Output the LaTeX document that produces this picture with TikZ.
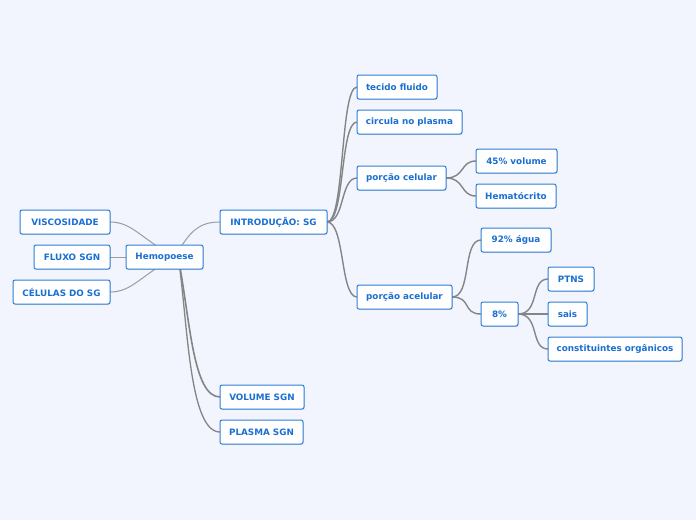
\documentclass[tikz,border=0pt]{standalone}
\usepackage{fontspec}
\setmainfont{DejaVu Sans}
\usetikzlibrary{shadows}
\definecolor{bgc}{HTML}{F2F5FE}
\definecolor{bordc}{HTML}{2E7FD8}
\definecolor{txtc}{HTML}{1A6FD2}
\definecolor{linec}{HTML}{858585}
\definecolor{linel}{HTML}{9C9C9C}
\tikzset{
  mbox/.style={draw=bordc, line width=1pt, fill=white, rounded corners=2pt,
    minimum height=24pt, inner sep=0pt, text=txtc,
    font=\fontsize{8.8}{10}\selectfont\bfseries,
    drop shadow={shadow xshift=0.6pt, shadow yshift=-0.8pt, opacity=0.25}},
  conn/.style={draw=linec, line width=1.4pt},
  connl/.style={draw=linel, line width=1pt}
}
\begin{document}
\begin{tikzpicture}[x=1pt,y=-1pt]
\fill[bgc] (0,0) rectangle (696,520);
\useasboundingbox (0,0) rectangle (696,520);
% coordinates for connector ends
\coordinate (hc) at (175,257);
\coordinate (hb) at (179,262);
\coordinate (ir) at (327,222);
% connectors
\draw[connl] (110,222) .. controls (132,222) and (140,238) .. (hc);
\draw[connl] (110,257) -- (hc);
\draw[connl] (110,292) .. controls (132,292) and (140,276) .. (hc);
\draw[connl] (hc) .. controls (190,230) and (200,222) .. (220,222);
\draw[conn, line width=1.6pt] (hb) .. controls (190,320) and (193,397) .. (220,397);
\draw[conn, line width=1.3pt] (hb) .. controls (188,330) and (190,432) .. (220,432);
\draw[conn] (ir) .. controls (345,222) and (340,87) .. (357,87);
\draw[conn] (ir) .. controls (345,222) and (340,122) .. (357,122);
\draw[conn] (ir) .. controls (345,222) and (340,178) .. (357,178);
\draw[conn] (ir) .. controls (345,222) and (340,297) .. (357,297);
\draw[conn] (446,178) .. controls (465,178) and (460,161) .. (476,161);
\draw[conn] (446,178) .. controls (465,178) and (460,196) .. (476,196);
\draw[conn] (452,297) .. controls (472,297) and (462,240) .. (481,240);
\draw[conn] (452,297) .. controls (472,297) and (462,314) .. (481,314);
\draw[conn] (518,314) .. controls (540,314) and (530,279) .. (548,279);
\draw[conn] (518,314) -- (548,314);
\draw[conn] (518,314) .. controls (540,314) and (530,349) .. (548,349);
% nodes
\node[mbox, minimum width=90pt] (visc) at (65,222) {VISCOSIDADE};
\node[mbox, minimum width=76pt] (flux) at (72,257) {FLUXO SGN};
\node[mbox, minimum width=97pt] (cel) at (61.5,292) {CÉLULAS DO SG};
\node[mbox, minimum width=77pt] (hemo) at (164.5,257) {Hemopoese};
\node[mbox, minimum width=107pt] (intro) at (273.5,222) {INTRODUÇÃO: SG};
\node[mbox, minimum width=80pt] (tec) at (397,87) {tecido fluido};
\node[mbox, minimum width=105pt] (circ) at (409.5,122) {circula no plasma};
\node[mbox, minimum width=89pt] (pcel) at (401.5,178) {porção celular};
\node[mbox, minimum width=95pt] (pacel) at (404.5,297) {porção acelular};
\node[mbox, minimum width=81pt] (vol45) at (516.5,161) {45\% volume};
\node[mbox, minimum width=80pt] (hema) at (516,196) {Hematócrito};
\node[mbox, minimum width=70pt] (agua) at (516,240) {92\% água};
\node[mbox, minimum width=37pt] (oito) at (499.5,314) {8\%};
\node[mbox, minimum width=46pt] (ptns) at (571,279) {PTNS};
\node[mbox, minimum width=39pt] (sais) at (567.5,314) {sais};
\node[mbox, minimum width=134pt] (const) at (615,349) {constituintes orgânicos};
\node[mbox, minimum width=84pt] (volsgn) at (262,397) {VOLUME SGN};
\node[mbox, minimum width=83pt] (plas) at (261.5,432) {PLASMA SGN};
\end{tikzpicture}
\end{document}
